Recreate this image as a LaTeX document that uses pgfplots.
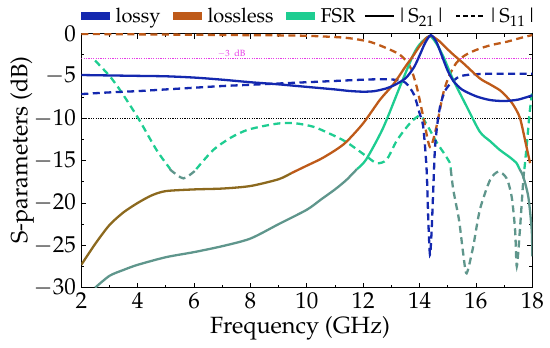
\documentclass[border=0pt]{standalone}
\usepackage[T1]{fontenc}
\usepackage{mathpazo}
\usepackage{pgfplots}
\usepackage{pgfplotstable}
\pgfplotsset{compat=1.18}
\definecolor{lossy}{RGB}{20,40,175}
\definecolor{lossless}{RGB}{190,90,25}
\definecolor{lossdark}{RGB}{140,105,30}
\definecolor{fsr}{RGB}{30,205,145}
\definecolor{fsrdark}{RGB}{95,150,140}
\definecolor{mag}{RGB}{230,60,230}

\pgfplotstableread{
x y
2 -4.9
3 -4.95
4 -5.0
5 -5.05
6 -5.2
7 -5.45
8 -5.75
9 -6.0
10 -6.3
11 -6.6
11.5 -6.78
12 -6.87
12.4 -6.8
12.8 -6.5
13.1 -6.1
13.5 -5.3
13.8 -4.0
14.0 -2.6
14.2 -1.1
14.4 -0.2
14.6 -1.0
14.8 -2.7
15.0 -4.4
15.2 -5.6
15.5 -6.6
16.0 -7.4
16.5 -7.85
17.0 -7.97
17.5 -7.8
18 -7.3
}\lossyStwo

\pgfplotstableread{
x y
2 -7.15
3 -6.95
4 -6.8
5 -6.6
6 -6.4
7 -6.2
8 -6.05
9 -5.9
10 -5.75
11 -5.6
12 -5.45
12.6 -5.4
13.1 -5.45
13.5 -5.8
13.8 -7.2
14.0 -9.4
14.13 -11
14.25 -16
14.31 -22
14.37 -26.1
14.43 -23.2
14.49 -18.1
14.55 -13.4
14.65 -10.2
14.75 -8.3
14.9 -6.8
15.1 -5.9
15.4 -5.1
15.8 -4.85
16.5 -4.75
17.5 -4.75
18 -4.75
}\lossySone

\pgfplotstableread{
x y
2 -27.3
2.5 -24.8
3 -22.6
3.5 -21.1
4 -20.0
4.5 -19.1
5 -18.6
6 -18.4
7 -18.3
8 -18.0
9 -17.2
9.44 -16.5
10 -15.6
10.5 -14.8
11 -13.8
11.4 -12.8
12 -10.6
12.6 -7.8
13.07 -6.0
13.5 -3.9
13.78 -2.6
14.0 -1.5
14.25 -0.5
14.43 -0.3
14.7 -0.9
14.96 -1.75
15.2 -2.5
15.55 -3.5
16.14 -5.3
16.5 -6.0
16.85 -6.7
17.1 -7.5
17.32 -8.4
17.56 -9.95
17.77 -13.0
17.92 -15.3
18 -17.3
}\losslessStwo

\pgfplotstableread{
x y
2 -0.05
4 -0.1
6 -0.15
8 -0.2
9.76 -0.25
10.9 -0.4
11.5 -0.55
12.2 -0.95
12.7 -1.55
13.3 -2.5
13.66 -3.9
13.9 -6.3
14.13 -9.8
14.37 -13.4
14.6 -11
14.84 -7.06
15.05 -5.0
15.3 -3.5
15.6 -2.6
16.0 -1.95
16.5 -1.4
17.1 -0.97
17.5 -0.6
18 -0.18
}\losslessSone

\pgfplotstableread{
x y
2.49 -30
3 -28.6
3.5 -27.9
4 -27.3
5 -26.4
6 -25.8
7 -25.1
8 -24.2
9 -22.5
10 -20.8
10.5 -19.6
11 -18.4
11.4 -17.3
11.78 -16.0
12.1 -14.9
12.7 -11.2
13.3 -6.3
13.78 -2.5
14.0 -1.3
14.25 -0.5
14.4 -0.35
14.6 -1.2
14.84 -2.7
15.2 -5.5
15.67 -8.6
16.14 -11.6
16.5 -12.7
16.85 -13.75
17.2 -14.6
17.44 -15.3
17.545 -16.0
17.68 -16.9
17.86 -19.3
17.98 -23.2
18 -26.3
}\fsrStwo

\pgfplotstableread{
x y
2.49 -3.2
3.0 -5.0
3.38 -6.7
4.02 -10.0
4.67 -13.75
5.157 -16.0
5.2 -16.2
5.62 -17.1
6.0 -16.3
6.08 -16.0
6.68 -13.75
7.3 -12.3
7.87 -11.4
8.5 -10.9
9.05 -10.6
9.6 -10.6
10.23 -11.0
10.8 -11.8
11.4 -12.8
12.12 -14.5
12.48 -15.3
12.83 -14.9
13.2 -12.6
13.66 -10.6
14.02 -9.7
14.3 -11.0
14.6 -12.8
14.9 -14.3
15.08 -15.3
15.106 -16.0
15.2 -18.5
15.4 -22
15.55 -26
15.67 -28.3
15.9 -25.2
16.14 -20.8
16.5 -17.3
16.8 -16.3
17.09 -17.1
17.27 -19.3
17.39 -23.2
17.45 -27.5
17.56 -23.2
17.68 -17.3
17.72 -16.0
17.82 -12.6
17.9 -9.5
18 -6.8
}\fsrSone

\begin{document}
\begin{tikzpicture}
\begin{axis}[
  at={(0,0)}, anchor=south west,
  scale only axis, width=451pt, height=254.2pt,
  xmin=2, xmax=18, ymin=-30, ymax=0,
  xtick={2,4,...,18}, ytick={-30,-25,...,0},
  minor x tick num=1, minor y tick num=1,
  tick align=inside,
  major tick length=5pt, minor tick length=3pt,
  tick style={line width=0.8pt, black},
  axis line style={line width=1pt},
  tick label style={font=\fontsize{23}{26}\selectfont},
  xticklabel style={yshift=-1.5pt},
  yticklabel style={xshift=-2pt},
  label style={font=\fontsize{23.5}{27}\selectfont},
  xlabel={Frequency (GHz)},
  ylabel={S-parameters (dB)},
  xlabel style={at={(axis description cs:0.485,-0.159)}, anchor=center},
  ylabel style={at={(axis description cs:-0.131,0.542)}, anchor=center},
  legend image code/.code={\draw[#1] (0pt,0pt) -- (29pt,0pt);},
  legend style={draw=none, fill=none, inner sep=0pt,
    at={(axis description cs:-0.0095,1.069)}, anchor=west,
    font=\fontsize{20}{24}\selectfont,
    nodes={inner sep=1.5pt},
    /tikz/every even column/.append style={column sep=7pt}},
  legend columns=-1,
  no markers,
  every axis plot/.append style={smooth, tension=0.45},
]
\addlegendimage{lossy, line width=8pt}
\addlegendimage{lossless, line width=8pt}
\addlegendimage{fsr, line width=8pt}
\addlegendimage{black, line width=1.6pt}
\addlegendimage{black, line width=1.6pt, dash pattern=on 4.5pt off 3pt}
\legend{lossy, lossless, FSR, \textbar S\textsubscript{21}\textbar, \textbar S\textsubscript{11}\textbar}

% reference lines
\addplot[forget plot, mag, line width=1pt, dash pattern=on 1.2pt off 1.2pt, sharp plot] coordinates {(2,-3) (18,-3)};
\addplot[forget plot, black, line width=1pt, dash pattern=on 1.2pt off 1.2pt, sharp plot] coordinates {(2,-10) (18,-10)};
\node[mag, font=\fontsize{9}{10}\selectfont, anchor=south, inner sep=1.5pt] at (axis cs:7.33,-3) {$-$3\ \ dB};

% S11 dashed
\addplot[forget plot, fsr, line width=2.3pt, dash pattern=on 7pt off 4.5pt, restrict y to domain=-16:0, unbounded coords=jump] table {\fsrSone};
\addplot[forget plot, fsrdark, line width=2.3pt, dash pattern=on 7pt off 4.5pt, restrict y to domain=-40:-16, unbounded coords=jump] table {\fsrSone};
\addplot[forget plot, lossless, line width=2.3pt, dash pattern=on 7pt off 4.5pt] table {\losslessSone};
\addplot[forget plot, lossy, line width=2.3pt, dash pattern=on 7pt off 4.5pt] table {\lossySone};

% S21 solid
\addplot[forget plot, fsr, line width=2.3pt, restrict y to domain=-16:0, unbounded coords=jump] table {\fsrStwo};
\addplot[forget plot, fsrdark, line width=2.3pt, restrict y to domain=-40:-16, unbounded coords=jump] table {\fsrStwo};
\addplot[forget plot, lossless, line width=2.3pt, restrict y to domain=-16.5:0, unbounded coords=jump] table {\losslessStwo};
\addplot[forget plot, lossdark, line width=2.3pt, restrict y to domain=-40:-16.5, unbounded coords=jump] table {\losslessStwo};
\addplot[forget plot, lossy, line width=2.3pt] table {\lossyStwo};
\end{axis}
\pgfresetboundingbox
\path[use as bounding box] (-81.3pt,-60.3pt) rectangle (468.7pt,287.7pt);
\end{tikzpicture}
\end{document}
